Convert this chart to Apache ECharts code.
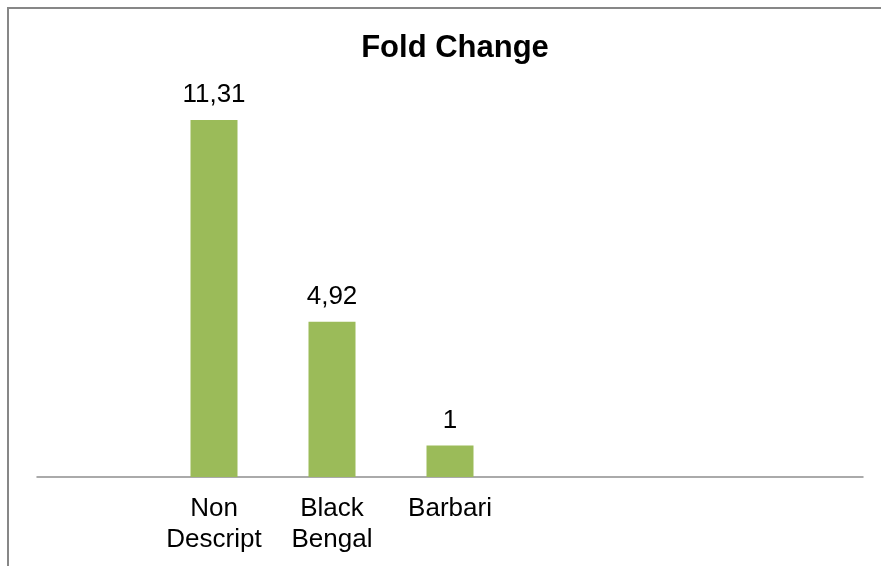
<!DOCTYPE html>
<html>
<head>
<meta charset="utf-8">
<script src="https://cdn.jsdelivr.net/npm/echarts@6/dist/echarts.min.js"></script>
<style>
  html, body { margin: 0; padding: 0; background: #fff; }
  #chart { width: 881px; height: 566px; }
</style>
</head>
<body>
<div id="chart"></div>
<script>
// Excel-style single series column chart; empty slots keep the original spacing
const categories = ["", "Non\nDescript", "Black\nBengal", "Barbari", "", "", ""]
const foldChange = [null, 11.31, 4.92, 1, null, null, null]

const FONT = "'Liberation Sans', Arial, sans-serif"
const GREEN = "#9bbb59"
const AXIS_GREY = "#8f8f8f"

const chart = echarts.init(document.getElementById("chart"), null, {renderer: "canvas"})

chart.setOption({
  animation: false,
  title: {
    text: "Fold Change",
    left: 450,
    top: 28,
    textAlign: "center",
    textStyle: {fontFamily: FONT, fontSize: 31, fontWeight: "bold", color: "#000"},
  },
  graphic: [{
    type: "rect",
    shape: {x: 8, y: 8, width: 1000, height: 1000},
    style: {fill: "none", stroke: "#878787", lineWidth: 2},
    silent: true,
  }],
  grid: {left: 37, right: 18, top: 35, bottom: 89},
  xAxis: {
    type: "category",
    data: categories,
    axisLine: {lineStyle: {color: AXIS_GREY, width: 1.5}},
    axisTick: {show: false},
    axisLabel: {
      interval: 0,
      margin: 16,
      color: "#000",
      fontFamily: FONT,
      fontSize: 26,
      lineHeight: 31,
    },
  },
  yAxis: {
    type: "value",
    min: 0,
    max: 14,
    show: false,
  },
  series: [{
    type: "bar",
    data: foldChange,
    barWidth: 47,
    itemStyle: {color: GREEN},
    label: {
      show: true,
      position: "top",
      distance: 12,
      color: "#000",
      fontFamily: FONT,
      fontSize: 26,
      formatter: p => String(p.value).replace(".", ","),
    },
  }],
})
</script>
</body>
</html>
